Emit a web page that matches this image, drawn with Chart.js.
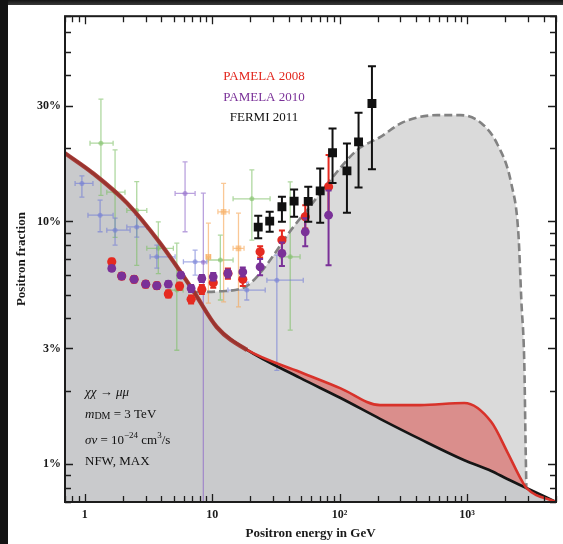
<!DOCTYPE html>
<html>
<head>
<meta charset="utf-8">
<title>Positron fraction</title>
<script src="https://cdn.jsdelivr.net/npm/chart.js@4.4.1/dist/chart.umd.min.js"></script>
<style>
  html, body { margin: 0; width: 563px; height: 544px; overflow: hidden; background: #fff; }
  .band-top { position: absolute; left: 0; top: 0; width: 563px; height: 5px; background: linear-gradient(#141414, #3a3a3a); }
  .band-left { position: absolute; left: 0; top: 0; width: 8px; height: 544px; background: #131313; }
  #wrap { position: absolute; left: 8px; top: 5px; width: 555px; height: 539px; }
</style>
</head>
<body>
<div class="band-top"></div>
<div class="band-left"></div>
<div id="wrap"><canvas id="pf" width="555" height="539"></canvas></div>
<script>
// axis ticks
const xTickVals = [1, 10, 100, 1000];
const xTickText = ['1', '10', '10²', '10³'];
const yTickVals = [0.01, 0.03, 0.1, 0.3];
const yTickText = ['1%', '3%', '10%', '30%'];

// PAMELA 2008
const pam08E  = [1.63, 1.95, 2.44, 3.01, 3.68, 4.53, 5.55, 6.84, 8.3, 10.2, 13.3, 17.4, 23.8, 35.3, 53.8, 82];
const pam08F  = [0.0682, 0.0596, 0.0578, 0.0552, 0.0544, 0.0503, 0.0542, 0.0478, 0.0525, 0.0559, 0.0611, 0.0578, 0.075, 0.0838, 0.1045, 0.1389];
const pam08Lo = [0.0662, 0.0578, 0.0561, 0.0535, 0.0527, 0.0486, 0.0524, 0.0460, 0.0503, 0.0533, 0.0581, 0.0543, 0.0710, 0.0758, 0.0935, 0.1050];
const pam08Hi = [0.0702, 0.0614, 0.0595, 0.0569, 0.0561, 0.0520, 0.0560, 0.0496, 0.0547, 0.0585, 0.0641, 0.0613, 0.0790, 0.0918, 0.1165, 0.1880];

// PAMELA 2010
const pam10E  = [1.63, 1.95, 2.44, 3.01, 3.68, 4.53, 5.68, 6.84, 8.3, 10.2, 13.3, 17.4, 23.8, 35.3, 53.8, 82];
const pam10F  = [0.0641, 0.0596, 0.0578, 0.0552, 0.0544, 0.0552, 0.0601, 0.053, 0.0583, 0.0592, 0.0611, 0.062, 0.065, 0.0739, 0.0907, 0.1062];
const pam10Lo = [0.0626, 0.0582, 0.0564, 0.0538, 0.0530, 0.0537, 0.0585, 0.0513, 0.0564, 0.0571, 0.0588, 0.0594, 0.0600, 0.0655, 0.0790, 0.0660];
const pam10Hi = [0.0656, 0.0610, 0.0592, 0.0566, 0.0558, 0.0567, 0.0617, 0.0547, 0.0602, 0.0613, 0.0634, 0.0646, 0.0700, 0.0820, 0.1030, 0.1340];

// FERMI 2011
const fermiE  = [23.0, 28.3, 35.3, 44.0, 56.8, 70.5, 88.1, 114.3, 141, 179.6];
const fermiF  = [0.0948, 0.1003, 0.1149, 0.1213, 0.121, 0.1337, 0.1917, 0.1616, 0.2127, 0.306];
const fermiLo = [0.0852, 0.0907, 0.0997, 0.1045, 0.0997, 0.0988, 0.1439, 0.1085, 0.138, 0.164];
const fermiHi = [0.1056, 0.1096, 0.1263, 0.1355, 0.1389, 0.1653, 0.2415, 0.2094, 0.28, 0.436];

// older measurements (faint)
const greenE   = [1.34, 1.73, 2.56, 3.78, 5.28, 11.6, 20.5, 41];
const greenElo = [1.10, 1.49, 2.14, 3.07, 4.68, 9.3, 14.6, 34.2];
const greenEhi = [1.67, 2.07, 3.07, 4.96, 5.92, 14.6, 28.5, 49];
const greenF   = [0.210, 0.132, 0.111, 0.0775, 0.0522, 0.0694, 0.124, 0.0715];
const greenFlo = [0.128, 0.086, 0.066, 0.061, 0.0295, 0.0475, 0.0838, 0.0357];
const greenFhi = [0.319, 0.197, 0.146, 0.0997, 0.0814, 0.0879, 0.163, 0.1456];

const blueE   = [0.95, 1.32, 1.73, 2.56, 3.68, 7.35, 18.7, 32.2];
const blueElo = [0.84, 1.06, 1.49, 2.14, 3.26, 5.95, 13.3, 26.9];
const blueEhi = [1.16, 1.67, 2.27, 3.07, 5.12, 9.08, 26.1, 51.9];
const blueF   = [0.1434, 0.1062, 0.0921, 0.095, 0.0715, 0.0682, 0.0522, 0.0573];
const blueFlo = [0.1259, 0.0907, 0.0799, 0.0862, 0.0643, 0.0601, 0.0475, 0.0244];
const blueFhi = [0.154, 0.1224, 0.1032, 0.1062, 0.0799, 0.0762, 0.0563, 0.0727];

const violetE   = [6.13, 8.53];
const violetElo = [5.12, 8.53];
const violetEhi = [7.35, 8.53];
const violetF   = [0.1305, 0.068];
const violetFlo = [0.0907, 0.001];
const violetFhi = [0.176, 0.1308];

const orangeE   = [9.35, 12.3, 16.1];
const orangeElo = [9.0, 11.1, 14.6];
const orangeEhi = [9.7, 13.6, 17.8];
const orangeF   = [0.0715, 0.1096, 0.0775];
const orangeFlo = [0.0461, 0.0467, 0.0445];
const orangeFhi = [0.0984, 0.1434, 0.1082];

// model curves
const bgE  = [0.7, 1.16, 2.15, 3.9, 7.08, 10.9, 18.8, 49, 101, 208, 430, 954, 1554, 2075, 2926, 5000];
const bgF  = [0.191, 0.158, 0.119, 0.0815, 0.052, 0.0367, 0.0296, 0.0227, 0.0188, 0.0154, 0.0127, 0.0104, 0.0094, 0.0087, 0.008, 0.007];
const sigE = [0.7, 1.16, 2.15, 3.9, 7.08, 10.9, 18.8, 49, 101, 208, 430, 954, 1554, 2075, 2674, 2926, 5000];
const sigF = [0.191, 0.158, 0.119, 0.0815, 0.052, 0.0367, 0.0296, 0.024, 0.0206, 0.01754, 0.01754, 0.01789, 0.01494, 0.01124, 0.00863, 0.008, 0.007];
const dmE  = [7.35, 11.55, 18.1, 23.8, 43.3, 55.7, 84.5, 137.8, 208, 316, 585, 887, 1298, 1733, 2233, 2535, 2674, 2825, 2878, 2926];
const dmF  = [0.0512, 0.0516, 0.0537, 0.0613, 0.0948, 0.1113, 0.148, 0.197, 0.2224, 0.2565, 0.274, 0.274, 0.254, 0.208, 0.1425, 0.0888, 0.047, 0.0249, 0.0131, 0.008];

const serif = "'Liberation Serif', 'DejaVu Serif', serif";
const pts = (xs, ys) => xs.map((v, i) => ({ x: v, y: ys[i] }));

// minor tick positions, every 1..9 per decade inside the axis range
function logTicks(min, max) {
  const out = [];
  for (let e = -4; e <= 4; e++) {
    for (let k = 1; k <= 9; k++) {
      const v = +(k * Math.pow(10, e)).toPrecision(3);
      if (v >= min * 0.999 && v <= max * 1.001) out.push(v);
    }
  }
  return out;
}

// vertical (and optional horizontal) error bars, drawn just under their markers
const errorBars = {
  id: 'errorBars',
  beforeDatasetDraw(chart, args) {
    const bar = chart.data.datasets[args.index].errorBars;
    if (!bar) return;
    const { ctx, chartArea: a, scales: { x, y } } = chart;
    ctx.save();
    ctx.beginPath();
    ctx.rect(a.left, a.top, a.right - a.left, a.bottom - a.top);
    ctx.clip();
    ctx.strokeStyle = bar.color;
    ctx.lineWidth = bar.width;
    ctx.beginPath();
    bar.x.forEach((e, i) => {
      const px = x.getPixelForValue(e), py = y.getPixelForValue(bar.y[i]);
      const t = y.getPixelForValue(bar.hi[i]), b = y.getPixelForValue(bar.lo[i]);
      ctx.moveTo(px, t); ctx.lineTo(px, b);
      if (bar.cap) {
        ctx.moveTo(px - bar.cap, t); ctx.lineTo(px + bar.cap, t);
        ctx.moveTo(px - bar.cap, b); ctx.lineTo(px + bar.cap, b);
      }
      if (bar.xlo && bar.xlo[i] !== bar.xhi[i]) {
        const l = x.getPixelForValue(bar.xlo[i]), r = x.getPixelForValue(bar.xhi[i]);
        ctx.moveTo(l, py); ctx.lineTo(r, py);
        if (bar.cap) {
          ctx.moveTo(l, py - bar.cap); ctx.lineTo(l, py + bar.cap);
          ctx.moveTo(r, py - bar.cap); ctx.lineTo(r, py + bar.cap);
        }
      }
    });
    ctx.stroke();
    ctx.restore();
  }
};

// boxed frame with inward ticks on all four sides, plus the in-plot text
const frame = {
  id: 'frame',
  afterDatasetsDraw(chart) {
    const { ctx, chartArea: a, scales: { x, y } } = chart;
    ctx.save();
    ctx.strokeStyle = '#1c1c1c';
    ctx.lineWidth = 1.3;
    ctx.beginPath();
    logTicks(0.7, 5000).forEach(v => {
      const px = Math.round(x.getPixelForValue(v)) + 0.5;
      const len = xTickVals.includes(v) ? 8 : 6;
      ctx.moveTo(px, a.bottom); ctx.lineTo(px, a.bottom - len);
      ctx.moveTo(px, a.top); ctx.lineTo(px, a.top + len);
    });
    logTicks(0.007, 0.7).forEach(v => {
      const py = Math.round(y.getPixelForValue(v)) + 0.5;
      const len = yTickVals.includes(v) ? 8 : 6;
      ctx.moveTo(a.left, py); ctx.lineTo(a.left + len, py);
      ctx.moveTo(a.right, py); ctx.lineTo(a.right - len, py);
    });
    ctx.stroke();
    ctx.lineWidth = 2;
    ctx.strokeRect(a.left, a.top, a.right - a.left, a.bottom - a.top);
    ctx.restore();
  },
  afterDraw(chart) {
    const ctx = chart.ctx;
    const runs = (x, y, parts) => {
      parts.forEach(p => {
        ctx.font = p.f;
        ctx.fillText(p.t, x, y + (p.dy || 0));
        x += ctx.measureText(p.t).width;
      });
    };
    ctx.save();
    // key
    ctx.textAlign = 'center';
    ctx.textBaseline = 'middle';
    ctx.font = `13px ${serif}`;
    ctx.fillStyle = '#e2261d'; ctx.fillText('PAMELA 2008', 256, 72);
    ctx.fillStyle = '#7a3198'; ctx.fillText('PAMELA 2010', 256, 93);
    ctx.fillStyle = '#111';    ctx.fillText('FERMI 2011', 256, 113);
    // model parameters
    ctx.textAlign = 'left';
    ctx.textBaseline = 'alphabetic';
    const rm = `13px ${serif}`, it = `italic 13px ${serif}`, sm = `10px ${serif}`, sup = `9px ${serif}`;
    runs(77, 391, [{ t: 'χχ', f: it }, { t: ' → ', f: rm }, { t: 'μμ', f: it }]);
    runs(77, 413, [{ t: 'm', f: it }, { t: 'DM', f: sm, dy: 1 }, { t: ' = 3 TeV', f: rm }]);
    runs(77, 439, [{ t: 'σv', f: it }, { t: ' = 10', f: rm }, { t: '−24', f: sup, dy: -6 }, { t: ' cm', f: rm }, { t: '3', f: sup, dy: -6 }, { t: '/s', f: rm }]);
    runs(77, 460, [{ t: 'NFW, MAX', f: rm }]);
    ctx.restore();
  }
};

const curve = { showLine: true, pointRadius: 0, cubicInterpolationMode: 'monotone' };
const areaFill = { showLine: true, pointRadius: 0, borderWidth: 0, borderColor: 'transparent', cubicInterpolationMode: 'monotone', fill: 'start' };
const lowE = s => s.p0.parsed.x < 18;

new Chart(document.getElementById('pf'), {
  type: 'scatter',
  data: {
    datasets: [
      { label: 'FERMI 2011', data: pts(fermiE, fermiF), pointStyle: 'rect', pointRadius: 6.3, backgroundColor: '#111', borderWidth: 0,
        errorBars: { x: fermiE, y: fermiF, lo: fermiLo, hi: fermiHi, color: '#111', width: 2, cap: 4 } },
      { label: 'PAMELA 2010', data: pts(pam10E, pam10F), pointRadius: 4.4, backgroundColor: '#7a3198', borderWidth: 0,
        errorBars: { x: pam10E, y: pam10F, lo: pam10Lo, hi: pam10Hi, color: '#7a3198', width: 2, cap: 3 } },
      { label: 'PAMELA 2008', data: pts(pam08E, pam08F), pointRadius: 4.6, backgroundColor: '#e52a20', borderWidth: 0,
        errorBars: { x: pam08E, y: pam08F, lo: pam08Lo, hi: pam08Hi, color: '#e52a20', width: 2, cap: 3 } },
      // where signal and background coincide the stacked strokes read as a brownish red
      { label: 'signal + background', data: pts(sigE, sigF), ...curve, borderWidth: 4.3, borderColor: '#d62f26',
        segment: {
          borderColor: s => lowE(s) ? 'rgba(165,54,48,0.93)' : '#d8322a',
          borderWidth: s => lowE(s) ? 4.3 : 2.6
        } },
      { label: 'background', data: pts(bgE, bgF), ...curve, borderColor: '#161616', borderWidth: 2.7 },
      { label: 'DM max', data: pts(dmE, dmF), ...curve, borderColor: '#828282', borderWidth: 2.6, borderDash: [8, 4] },
      { label: 'orange', data: pts(orangeE, orangeF), pointStyle: 'rect', pointRadius: 4, backgroundColor: 'rgba(246,170,90,0.6)', borderWidth: 0,
        errorBars: { x: orangeE, y: orangeF, lo: orangeFlo, hi: orangeFhi, xlo: orangeElo, xhi: orangeEhi, color: 'rgba(246,164,80,0.6)', width: 1.3, cap: 2.5 } },
      { label: 'violet', data: pts(violetE, violetF), pointRadius: 2.5, backgroundColor: 'rgba(140,100,200,0.55)', borderWidth: 0,
        errorBars: { x: violetE, y: violetF, lo: violetFlo, hi: violetFhi, xlo: violetElo, xhi: violetEhi, color: 'rgba(140,100,200,0.6)', width: 1.3, cap: 2.5 } },
      { label: 'blue', data: pts(blueE, blueF), pointRadius: 2.5, backgroundColor: 'rgba(112,122,214,0.55)', borderWidth: 0,
        errorBars: { x: blueE, y: blueF, lo: blueFlo, hi: blueFhi, xlo: blueElo, xhi: blueEhi, color: 'rgba(112,122,214,0.6)', width: 1.3, cap: 2.5 } },
      { label: 'green', data: pts(greenE, greenF), pointRadius: 2.5, backgroundColor: 'rgba(122,190,96,0.55)', borderWidth: 0,
        errorBars: { x: greenE, y: greenF, lo: greenFlo, hi: greenFhi, xlo: greenElo, xhi: greenEhi, color: 'rgba(122,190,96,0.6)', width: 1.3, cap: 2.5 } },
      { label: 'background area', data: pts(bgE, bgF), ...areaFill, backgroundColor: '#c9cacc' },
      { label: 'signal area', data: pts(sigE, sigF), ...areaFill, backgroundColor: '#da8e8c' },
      { label: 'DM area', data: pts(dmE, dmF), ...areaFill, backgroundColor: '#dadada' }
    ]
  },
  options: {
    responsive: false,
    animation: false,
    events: [],
    layout: { padding: { left: 0, right: 7, top: 11, bottom: 0 } },
    plugins: {
      legend: { display: false },
      tooltip: { enabled: false },
      filler: { drawTime: 'beforeDatasetsDraw' }
    },
    scales: {
      x: {
        type: 'logarithmic', min: 0.7, max: 5000,
        grid: { display: false, drawTicks: false }, border: { display: false },
        afterBuildTicks: axis => { axis.ticks = xTickVals.map(v => ({ value: v })); },
        afterFit: axis => { axis.height = 42; },
        ticks: { autoSkip: false, maxRotation: 0, padding: 6, color: '#1a1a1a',
                 font: { family: serif, size: 12, weight: 'bold' },
                 callback: (v, i) => xTickText[i] },
        title: { display: true, text: 'Positron energy in GeV', color: '#1a1a1a',
                 font: { family: serif, size: 13, weight: 'bold' }, padding: { top: 0, bottom: 3 } }
      },
      y: {
        type: 'logarithmic', min: 0.007, max: 0.7,
        grid: { display: false, drawTicks: false }, border: { display: false },
        afterBuildTicks: axis => { axis.ticks = yTickVals.map(v => ({ value: v })); },
        afterFit: axis => { axis.width = 57; },
        ticks: { autoSkip: false, padding: 4, color: '#1a1a1a',
                 font: { family: serif, size: 12, weight: 'bold' },
                 callback: (v, i) => yTickText[i] },
        title: { display: true, text: 'Positron fraction', color: '#1a1a1a',
                 font: { family: serif, size: 13, weight: 'bold' }, padding: { top: 6, bottom: 0 } }
      }
    }
  },
  plugins: [errorBars, frame]
});
</script>
</body>
</html>
